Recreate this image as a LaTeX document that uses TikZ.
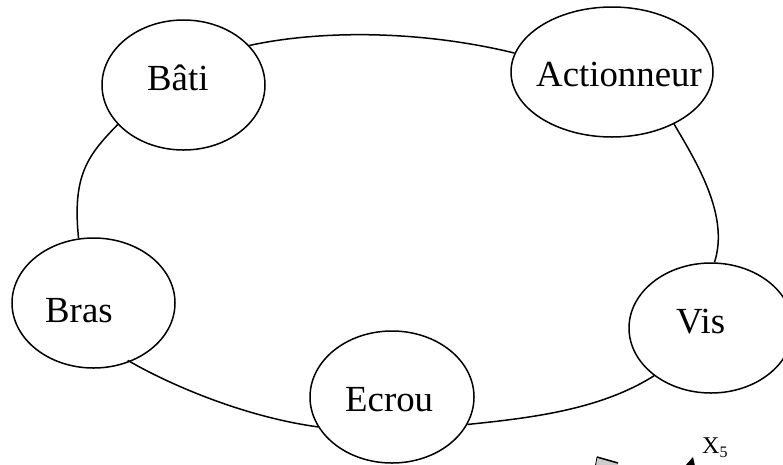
\documentclass[tikz,border=0pt]{standalone}
\usepackage{fontspec}
\setmainfont{Liberation Serif}
\usetikzlibrary{shapes.geometric}
\tikzset{
part/.style={draw,ellipse,line width=1.5pt,inner sep=0pt,minimum height=130},
partlabel/.style={inner sep=0pt,anchor=base west,font=\fontsize{36.8}{36.8}\selectfont},
link/.style={line width=1.5pt}}
\begin{document}
\begin{tikzpicture}[x=1pt,y=-1pt]
\useasboundingbox (0,0) rectangle (783,464);
\clip (0,0) rectangle (783,464);
\node[part,minimum width=163] (bati) at (183.5,85) {};
\node[partlabel] (tbati) at (147,90) {Bâti};
\node[part,minimum width=202] (act) at (612,72) {};
\node[partlabel] (tact) at (536,86) {Actionneur};
\node[part,minimum width=163] (bras) at (93.5,303) {};
\node[partlabel] (tbras) at (45,322) {Bras};
\node[part,minimum width=164] (vis) at (711,328) {};
\node[partlabel] (tvis) at (676,333) {Vis};
\node[part,minimum width=164,minimum height=132] (ecrou) at (392,397) {};
\node[partlabel] (tecrou) at (345,411) {Ecrou};
\draw[link] (bati.31.8) .. controls (320,30) and (420,30) .. (act.169.3);
\draw[link] (act.-40.5) .. controls (695,160) and (730,215) .. (vis.87.3);
\draw[link] (bati.211.4) .. controls (88,155) and (72,175) .. (bras.103.4);
\draw[link,shorten <=-3pt] (bras.-58) .. controls (170,385) and (245,417) .. (ecrou.202.3);
\draw[link] (ecrou.-20.7) .. controls (530,418) and (600,410) .. (vis.220.2);
\node[inner sep=0pt,anchor=base west,font=\fontsize{24}{24}\selectfont] (x5) at (702,453) {X\raisebox{-4pt}{\fontsize{16}{16}\selectfont 5}};
\fill[gray!40] (597,457) -- (618,463) -- (618,468) -- (595,468) -- cycle;
\draw[line width=1.5pt] (597,457) -- (618,463);
\draw[line width=.8pt] (597,457) -- (595,468);
\fill[black] (693,457) -- (685,466) -- (695,466) -- cycle;
\end{tikzpicture}
\end{document}
